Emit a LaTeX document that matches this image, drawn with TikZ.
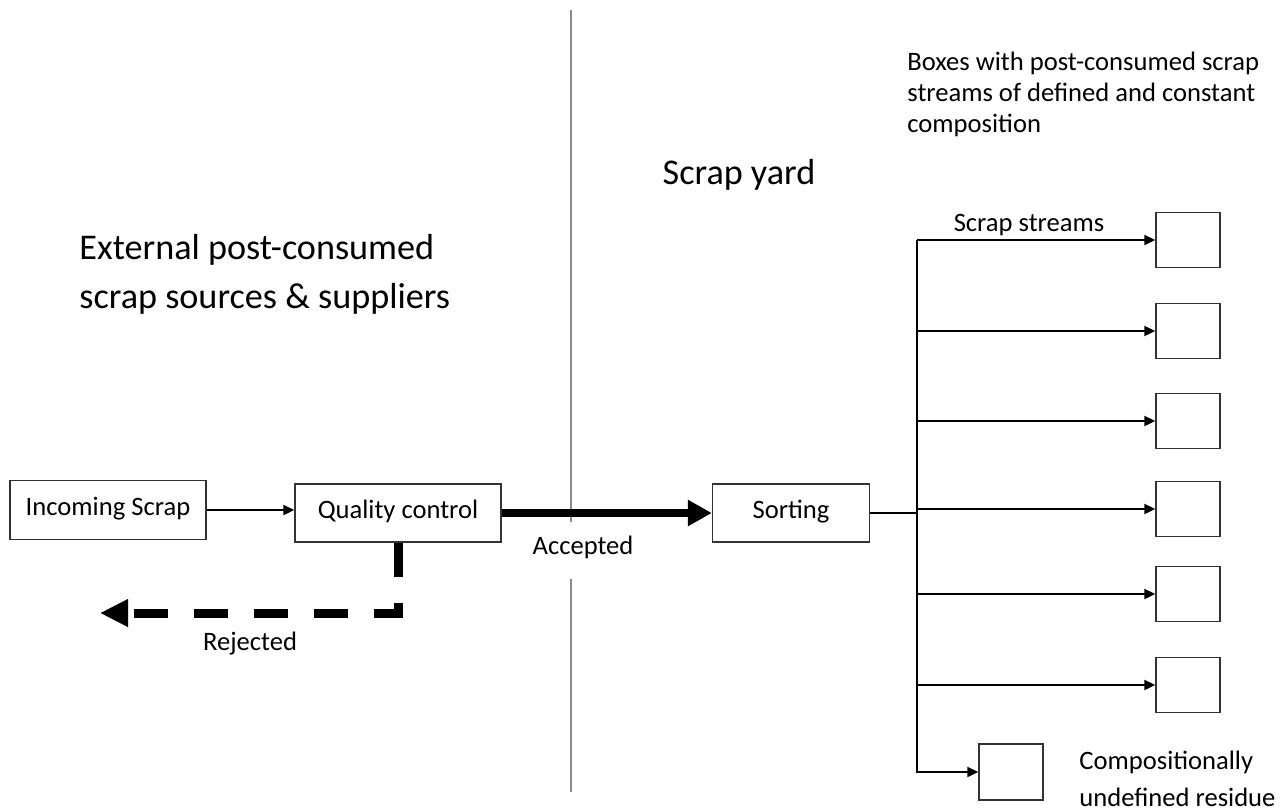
\documentclass[tikz,border=0pt]{standalone}
\usepackage{fontspec}
\setmainfont{Carlito}
\usetikzlibrary{arrows.meta}

\begin{document}
\begin{tikzpicture}[x=0.5pt,y=-0.5pt,
        box/.style={draw=black!80,line width=0.7pt,inner sep=0pt,text height=9pt,text depth=3.4pt,font=\fontsize{13.3}{16}\selectfont},
        bin/.style={box,minimum width=32pt,minimum height=27.5pt},
        lbl/.style={inner sep=0pt,font=\fontsize{13.3}{15.5}\selectfont},
        big/.style={inner sep=0pt,align=left,font=\fontsize{18.1}{24.5}\selectfont},
        flow/.style={line width=1pt,-{Triangle[length=5.5pt,width=5pt]}}]
        \useasboundingbox (0,0) rectangle (1284,811);

        % Divider
        \draw[black!45,line width=0.6pt] (571,10) -- (571,522);
        \draw[black!45,line width=0.6pt] (571,579) -- (571,792);

        % Headings
        \node[big,anchor=west] (ext) at (79,274) {External post-consumed\\scrap sources \& suppliers};
        \node[big] (yard) at (739,175) {Scrap yard};
        \node[lbl,align=left,anchor=west] (note) at (907,94) {Boxes with post-consumed scrap\\streams of defined and constant\\composition};

        % Process boxes
        \node[box,minimum width=98pt,minimum height=29.5pt] (inc) at (108,510) {Incoming Scrap};
        \node[box,minimum width=103pt,minimum height=29pt] (qc) at (398,513) {Quality control};
        \node[box,minimum width=78.5pt,minimum height=29pt] (sort) at (791,513) {Sorting};

        % Incoming -> QC
        \draw[flow] (inc.east) -- (inc.east -| qc.west);

        % Accepted
        \draw[line width=4pt,-{Triangle[length=12pt,width=12.5pt]}] (qc.east) -- (sort.west);
        \node[lbl] (acc) at (583,547) {Accepted};

        % Rejected
        \coordinate (rej) at (100,613);
        \draw[line width=4.5pt,dash pattern=on 17pt off 13pt,-{Triangle[length=14pt,width=13pt]}] (qc.south) |- (rej);
        \node[lbl] (rejlbl) at (250,644) {Rejected};

        % Scrap stream boxes
        \coordinate (top) at (917,240);
        \foreach \y [count=\i] in {240,331,421,509,594,685} {
            \node[bin] (bin\i) at (1188,\y) {};
            \draw[flow] (bin\i.west -| top) -- (bin\i.west);
        }
        \node[lbl] (streams) at (1029,225) {Scrap streams};

        % Sorting -> trunk
        \draw[line width=1pt] (sort.east) -- (sort.east -| top);

        % Residue
        \node[bin,minimum height=28pt] (res) at (1011,772) {};
        \draw[flow] (top) |- (res.west);
        \node[lbl,align=left,anchor=west] (resnote) at (1079,779) {Compositionally\\[3pt]undefined residue};
\end{tikzpicture}
\end{document}
